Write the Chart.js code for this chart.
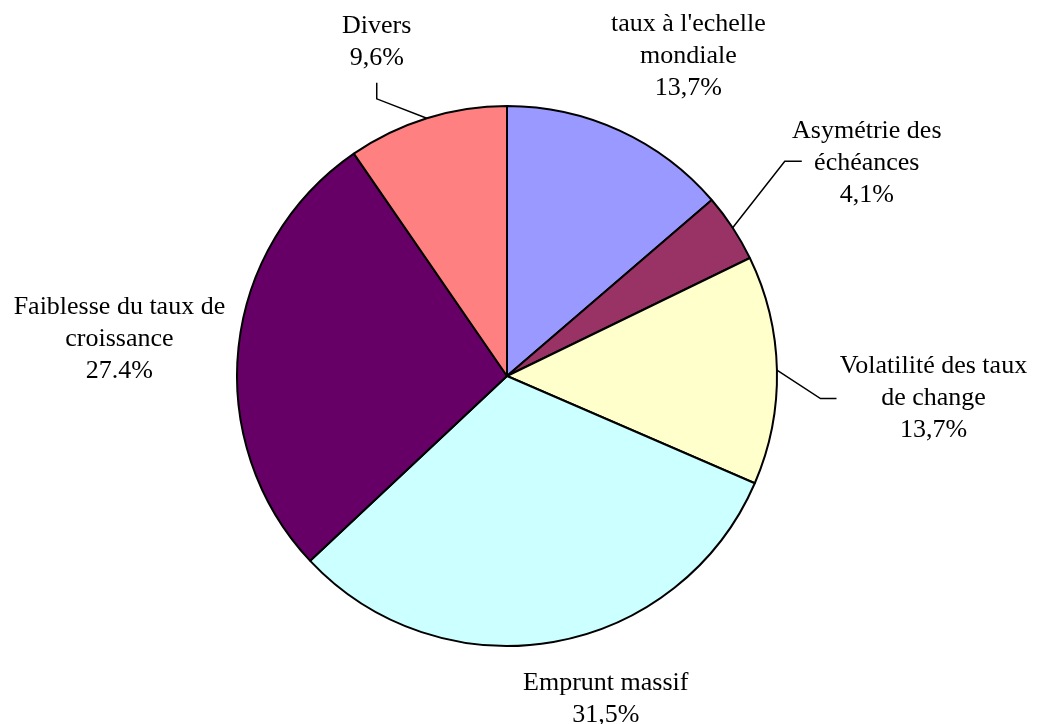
<!DOCTYPE html>
<html>
<head>
<meta charset="utf-8">
<script src="https://cdn.jsdelivr.net/npm/chart.js@4"></script>
<style>
  html, body { margin: 0; padding: 0; background: #fff; }
  #wrap { width: 1039px; height: 724px; }
</style>
</head>
<body>
<div id="wrap"><canvas id="pie" width="1039" height="724"></canvas></div>
<script>
// slices, clockwise from 12 o'clock
const labels = [
    ["taux à l'echelle", 'mondiale'],
    ['Asymétrie des', 'échéances'],
    ['Volatilité des taux', 'de change'],
    ['Emprunt massif'],
    ['Faiblesse du taux de', 'croissance'],
    ['Divers']
];
const values = [13.7, 4.1, 13.7, 31.5, 27.4, 9.6];
const valueTexts = ['13,7%', '4,1%', '13,7%', '31,5%', '27.4%', '9,6%'];
const colors = ['#9999FF', '#993366', '#FFFFCC', '#CCFFFF', '#660066', '#FF8080'];

// label placement: k = distance along the slice bisector (in radii), dx/dy = nudge in px
// leader: elbow and end points relative to the label block centre (null = no leader)
const labelLayout = [
    { k: 1.30, dx: 35, dy: -1, leader: null },
    { k: 1.55, dx: 10, dy: 17, leader: { elbow: [-82, -2], end: [-65, -2] } },
    { k: 1.58, dx: 0, dy: 32, leader: { elbow: [-113, 0], end: [-97, 0] } },
    { k: 1.20, dx: 43, dy: 4, leader: null },
    { k: 1.44, dx: -1, dy: 5, leader: null },
    { k: 1.30, dx: -26, dy: 1, leader: { elbow: [0, 57], end: [0, 41] } }
];

const FONT = '26px "Liberation Serif", "Times New Roman", serif';
const LINE_H = 32;

const pieLabels = {
    id: 'pieLabels',
    afterDatasetsDraw(chart) {
        const ctx = chart.ctx;
        const meta = chart.getDatasetMeta(0);
        ctx.save();
        ctx.font = FONT;
        ctx.fillStyle = '#000';
        ctx.strokeStyle = '#000';
        ctx.lineWidth = 1.5;
        ctx.textAlign = 'center';
        ctx.textBaseline = 'middle';

        meta.data.forEach((arc, i) => {
            const { x, y, startAngle, endAngle, outerRadius } =
                arc.getProps(['x', 'y', 'startAngle', 'endAngle', 'outerRadius'], true);
            const mid = (startAngle + endAngle) / 2;
            const lay = labelLayout[i];
            const cx = x + Math.cos(mid) * outerRadius * lay.k + lay.dx;
            const cy = y + Math.sin(mid) * outerRadius * lay.k + lay.dy;

            const lines = labels[i].concat([valueTexts[i]]);
            const top = cy - (lines.length - 1) * LINE_H / 2;
            lines.forEach((t, j) => ctx.fillText(t, cx, top + j * LINE_H));

            if (lay.leader) {
                const ex = x + Math.cos(mid) * outerRadius;
                const ey = y + Math.sin(mid) * outerRadius;
                ctx.beginPath();
                ctx.moveTo(ex, ey);
                ctx.lineTo(cx + lay.leader.elbow[0], cy + lay.leader.elbow[1]);
                ctx.lineTo(cx + lay.leader.end[0], cy + lay.leader.end[1]);
                ctx.stroke();
            }
        });
        ctx.restore();
    }
};

new Chart(document.getElementById('pie'), {
    type: 'pie',
    data: {
        labels: labels.map(l => l.join(' ')),
        datasets: [{
            data: values,
            backgroundColor: colors,
            borderColor: '#000',
            borderWidth: 2
        }]
    },
    options: {
        responsive: false,
        animation: false,
        layout: { padding: { left: 236, right: 261, top: 105, bottom: 77 } },
        plugins: {
            legend: { display: false },
            tooltip: { enabled: false }
        }
    },
    plugins: [pieLabels]
});
</script>
</body>
</html>
